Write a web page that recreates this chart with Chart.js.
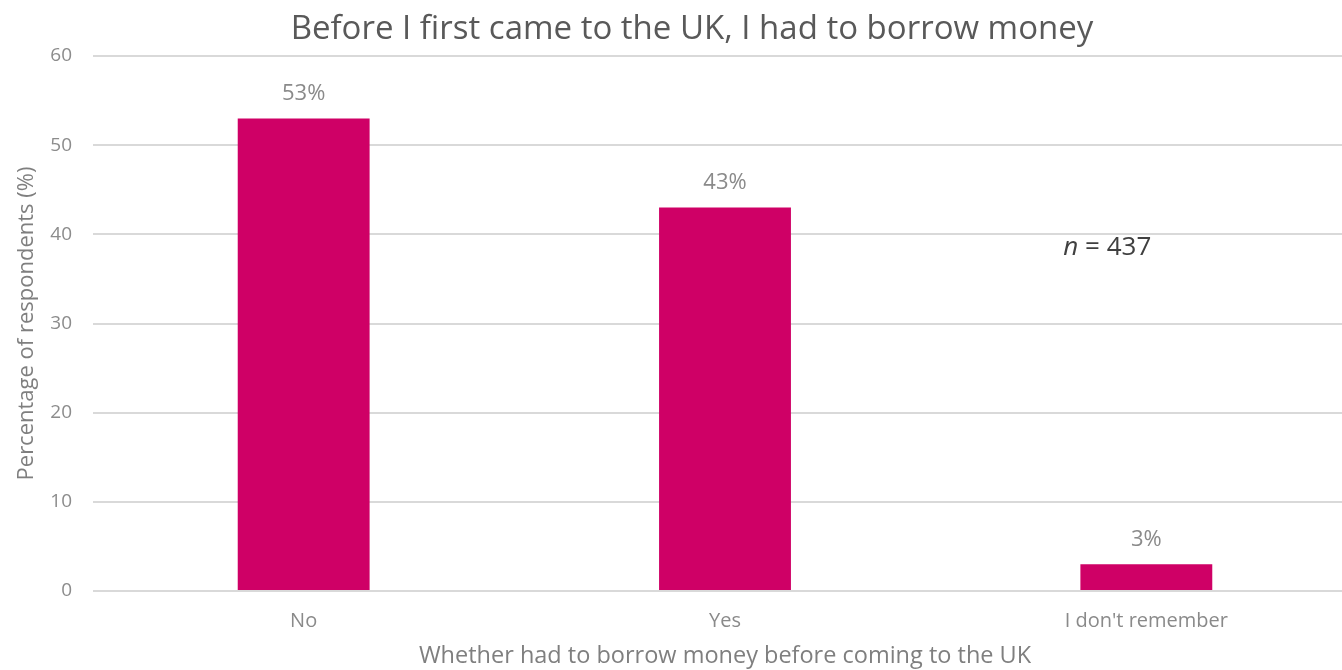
<!DOCTYPE html>
<html>
<head>
<meta charset="utf-8">
<script src="https://cdn.jsdelivr.net/npm/chart.js@4"></script>
<style>
  html, body { margin: 0; padding: 0; background: #ffffff; }
  /* the original plot runs a little past the right edge, so the canvas is wider than the view */
  #wrap { width: 1342px; height: 670px; overflow: hidden; position: relative; }
</style>
</head>
<body>
<div id="wrap"><canvas id="borrowChart" width="1357" height="670"></canvas></div>
<script>
// Chart data
const categories = ["No", "Yes", "I don't remember"];
const percentages = [53, 43, 3];
const yTicks = [0, 10, 20, 30, 40, 50, 60];

const chartTitle = "Before I first came to the UK, I had to borrow money";
const xTitle = "Whether had to borrow money before coming to the UK";
const yTitle = "Percentage of respondents (%)";

const FONT = "'Open Sans', 'Noto Sans', sans-serif";
const BAR_COLOR = "#cf0066";

// Title, "53%" style labels above bars and the n = 437 note
const extraText = {
  id: "extraText",
  afterDatasetsDraw(chart) {
    const ctx = chart.ctx;
    const meta = chart.getDatasetMeta(0);
    ctx.save();

    // chart title
    ctx.font = "33px " + FONT;
    ctx.fillStyle = "#595959";
    ctx.textAlign = "center";
    ctx.textBaseline = "middle";
    ctx.fillText(chartTitle, 692, 30);

    // value labels
    ctx.font = "22px " + FONT;
    ctx.fillStyle = "#8a8a8a";
    meta.data.forEach((bar, i) => {
      ctx.fillText(percentages[i] + "%", bar.x, bar.y - 25);
    });

    // sample size note
    const xScale = chart.scales.x;
    const yScale = chart.scales.y;
    const nx = xScale.getPixelForValue(2) - 83;
    const ny = yScale.getPixelForValue(38.5);
    ctx.textAlign = "left";
    ctx.fillStyle = "#404040";
    ctx.font = "italic 26px " + FONT;
    ctx.fillText("n", nx, ny);
    const w = ctx.measureText("n ").width;
    ctx.font = "26px " + FONT;
    ctx.fillText("= 437", nx + w, ny);
    ctx.restore();
  },
};

document.addEventListener("DOMContentLoaded", function () {
  const ctx = document.getElementById("borrowChart");
  new Chart(ctx, {
    type: "bar",
    data: {
      labels: categories,
      datasets: [
        {
          data: percentages,
          backgroundColor: BAR_COLOR,
          borderWidth: 0,
          barPercentage: 0.313,
          categoryPercentage: 1,
        },
      ],
    },
    options: {
      responsive: false,
      animation: false,
      layout: { padding: { left: 0, right: 0, top: 56, bottom: 0 } },
      plugins: {
        legend: { display: false },
        tooltip: { enabled: false },
        title: { display: false },
      },
      scales: {
        x: {
          grid: { display: false, drawTicks: false },
          border: { display: false },
          ticks: {
            color: "#8a8a8a",
            font: { family: FONT, size: 20 },
            padding: 18,
          },
          title: {
            display: true,
            text: xTitle,
            color: "#7f7f7f",
            font: { family: FONT, size: 23.5 },
            padding: { top: 0, bottom: 0 },
          },
          afterFit(scale) {
            scale.height = 79;
          },
        },
        y: {
          min: 0,
          max: 60,
          afterBuildTicks(scale) {
            scale.ticks = yTicks.map((v) => ({ value: v }));
          },
          grid: { color: "#d9d9d9", lineWidth: 2, drawTicks: false },
          border: { display: false },
          ticks: {
            color: "#8c8c8c",
            font: { family: FONT, size: 19 },
            padding: 21,
          },
          title: {
            display: true,
            text: yTitle,
            color: "#7f7f7f",
            font: { family: FONT, size: 22 },
            padding: { top: 14, bottom: 0 },
          },
          afterFit(scale) {
            scale.width = 93;
          },
        },
      },
    },
    plugins: [extraText],
  });
});
</script>
</body>
</html>
